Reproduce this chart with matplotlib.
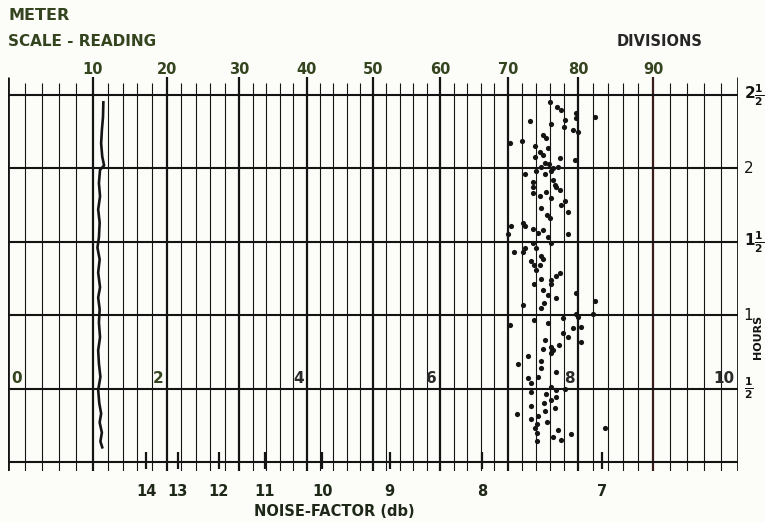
import numpy as np
import matplotlib
matplotlib.use("Agg")
import matplotlib.pyplot as plt

# ---------------- data ----------------
scale_divs = [0, 10, 20, 30, 40, 50, 60, 70, 80, 90, 100]
top_label_divs = [10, 20, 30, 40, 50, 60, 70, 80, 90]
top_labels = ["10", "20", "30", "40", "50", "60", "70", "80", "90"]
hour_ticks = [0.5, 1.0, 1.5, 2.0, 2.5]
hour_labels = [r"$\frac{1}{2}$", "1", r"$1\frac{1}{2}$", "2", r"$2\frac{1}{2}$"]
mid_divs = [0, 20, 40, 60, 80, 100]
mid_labels = ["0", "2", "4", "6", "8", "10"]
nf_divs = [17.2, 21.5, 27.2, 33.8, 42.3, 52.5, 66.2, 83.2]
nf_labels = ["14", "13", "12", "11", "10", "9", "8", "7"]

trace_hours = [2.45, 2.35, 2.26, 2.17, 2.08, 2.02, 1.99, 1.90, 1.81, 1.72,
               1.63, 1.53, 1.46, 1.38, 1.29, 1.19, 1.12, 1.04, 0.95, 0.85,
               0.76, 0.67, 0.58, 0.49, 0.40, 0.33, 0.27, 0.20, 0.14, 0.10]
trace_divs = [11.4, 11.35, 11.2, 11.1, 11.25, 11.5, 10.95, 10.8, 10.95, 10.7,
              10.9, 10.8, 10.6, 10.9, 10.7, 10.95, 10.7, 10.9, 10.8, 10.95,
              10.7, 10.8, 11.0, 10.7, 10.85, 11.1, 10.9, 11.2, 11.0, 11.25]

dot_divs = [
    76.0, 77.0, 77.6, 79.7, 79.7, 78.1, 82.3, 73.1, 76.1, 78.0, 79.3, 80.0,
    75.0, 75.4, 72.0, 70.3, 73.9, 75.7, 74.6, 75.0, 73.9, 77.4, 79.6, 75.3,
    75.8, 77.1, 76.4, 74.7, 72.4, 74.0, 75.3, 76.1, 73.6, 76.4, 76.7,
    73.6, 73.6, 75.4, 76.9, 77.4, 74.6, 76.1, 78.1, 77.6, 78.6, 74.7, 75.6,
    76.0, 70.4, 72.1, 72.4, 73.6, 75.0, 74.3, 70.0, 78.6, 75.7, 76.1, 73.6,
    74.0, 72.4, 70.9, 72.1, 74.7, 75.0, 73.3, 74.6, 74.0, 73.7, 77.4, 76.9,
    74.7, 76.1, 76.1, 73.7, 75.0, 75.7, 76.9, 79.7, 82.3, 75.1, 72.1, 74.7,
    79.7, 82.0, 73.7, 77.9, 80.0, 70.3, 75.7, 80.4, 79.3, 77.9, 78.6, 75.3,
    80.4, 77.3, 76.1, 75.0, 76.4, 76.1, 72.9, 74.7, 71.4,
    74.7, 76.9, 74.3, 72.9, 73.3, 78.1, 76.1, 76.9, 73.3, 75.4, 76.9, 76.1,
    75.1, 73.3, 76.7, 75.3, 71.3, 74.3, 73.3, 75.6, 74.1, 73.9, 77.1, 79.0,
    76.4, 74.1, 77.6, 74.1, 83.6]
dot_hours = [
    2.45, 2.42, 2.40, 2.38, 2.34, 2.33, 2.35, 2.32, 2.30, 2.28, 2.26, 2.25,
    2.23, 2.21, 2.19, 2.17, 2.15, 2.14, 2.11, 2.09, 2.08, 2.07, 2.06, 2.04,
    2.03, 2.01, 2.00, 2.01, 1.96, 1.98, 1.96, 1.98, 1.91, 1.92, 1.89,
    1.87, 1.83, 1.84, 1.87, 1.85, 1.81, 1.80, 1.78, 1.75, 1.70, 1.73, 1.68,
    1.66, 1.61, 1.63, 1.61, 1.59, 1.58, 1.56, 1.55, 1.55, 1.53, 1.49, 1.49,
    1.46, 1.46, 1.43, 1.43, 1.40, 1.38, 1.37, 1.34, 1.31, 1.34, 1.29, 1.27,
    1.25, 1.24, 1.21, 1.21, 1.17, 1.14, 1.12, 1.15, 1.10, 1.08, 1.07, 1.05,
    1.01, 1.01, 0.97, 0.98, 0.99, 0.93, 0.95, 0.92, 0.91, 0.88, 0.85, 0.83,
    0.82, 0.80, 0.78, 0.77, 0.76, 0.74, 0.72, 0.69, 0.67,
    0.64, 0.61, 0.58, 0.57, 0.54, 0.50, 0.51, 0.49, 0.48, 0.46, 0.44, 0.42,
    0.40, 0.38, 0.37, 0.35, 0.33, 0.31, 0.29, 0.27, 0.26, 0.23, 0.22, 0.19,
    0.17, 0.20, 0.15, 0.14, 0.23]

# ---------------- styling ----------------
W, H = 765, 522
DPI = 100
PAPER = "#fcfcf8"
INK = "#141414"
GREEN = "#34441f"
# meter-scale calibration of the chart paper (pixel position of each 10-division line)
scale_px = [8, 93, 167, 239, 307, 373, 440, 508, 578, 653, 738]

plt.rcParams["mathtext.fontset"] = "dejavusans"
plt.rcParams["mathtext.default"] = "bf"

fig = plt.figure(figsize=(W / DPI, H / DPI), dpi=DPI, facecolor=PAPER)

Y0, Y1 = -0.06, 2.62
px_per_hour = 146.8
top_px = 95 - (Y1 - 2.5) * px_per_hour
bot_px = 462 - Y0 * px_per_hour
ax = fig.add_axes([8 / W, (H - bot_px) / H, 730 / W, (bot_px - top_px) / H])
ax.set_facecolor(PAPER)


def fwd(x):
    return np.interp(x, scale_divs, scale_px)


def inv(p):
    return np.interp(p, scale_px, scale_divs)


ax.set_xscale("function", functions=(fwd, inv))
ax.set_xlim(0, 100)
ax.set_ylim(Y0, Y1)
for s in ax.spines.values():
    s.set_visible(False)
ax.set_xticks([])
ax.set_yticks([])

# vertical grid lines (every 2 divisions)
for d in range(0, 101, 2):
    major = d % 10 == 0
    top = Y1 if major else 2.585
    lw = 1.6 if major else 0.8
    col = "#3a1c1a" if d == 90 else INK
    if d in (0, 100):
        lw = 2.0
    ax.vlines(d, Y0, top, colors=col, lw=lw, zorder=1)

# horizontal hour lines
ax.hlines([0.0] + hour_ticks, 0, 100, colors=INK, lw=1.5, zorder=1)

# noise-factor ticks at the bottom
ax.vlines(nf_divs, -0.05, 0.07, colors=INK, lw=1.6, zorder=2)

# recorder trace and dots
ax.plot(trace_divs, trace_hours, color=INK, lw=1.9, zorder=3)
ax.scatter(dot_divs, dot_hours, s=14, color=INK, linewidths=0, zorder=3)

# top scale labels
for d, t in zip(top_label_divs, top_labels):
    ax.text(d, 2.677, t, ha="center", va="center", fontsize=10.5,
            fontweight="bold", color=GREEN, clip_on=False)

# right hour labels
for h, t in zip(hour_ticks, hour_labels):
    ax.annotate(t, (100, h), xytext=(4, 0), textcoords="offset points",
                ha="left", va="center", fontsize=11, color=INK,
                annotation_clip=False)

# 0-10 labels in the middle
for d, t in zip(mid_divs, mid_labels):
    if d == 0:
        off, ha = 2.5, "left"
    else:
        off, ha = -2.5, "right"
    ax.annotate(t, (d, 0.57), xytext=(off, 0), textcoords="offset points",
                ha=ha, va="center", fontsize=11, fontweight="bold",
                color=GREEN if d <= 20 else "#2a2a2a", annotation_clip=False)

# noise-factor labels
for d, t in zip(nf_divs, nf_labels):
    ax.text(d, -0.198, t, ha="center", va="center", fontsize=10.5,
            fontweight="bold", color="#1e2818", clip_on=False)

fig.text(8 / W, 1 - 16 / H, "METER", ha="left", va="center", fontsize=11.5,
         fontweight="bold", color=GREEN)
fig.text(8 / W, 1 - 42 / H, "SCALE - READING", ha="left", va="center",
         fontsize=11, fontweight="bold", color=GREEN)
fig.text(617 / W, 1 - 42 / H, "DIVISIONS", ha="left", va="center",
         fontsize=10.5, fontweight="bold", color="#262626")
fig.text(334 / W, 1 - 511 / H, "NOISE-FACTOR (db)", ha="center", va="center",
         fontsize=10.5, fontweight="bold", color="#1e2818")
fig.text(758 / W, 1 - 337 / H, "HOURS", ha="center", va="center",
         rotation=90, fontsize=8, fontweight="bold", color=INK)

fig.savefig("out.png", dpi=DPI, facecolor=PAPER)
